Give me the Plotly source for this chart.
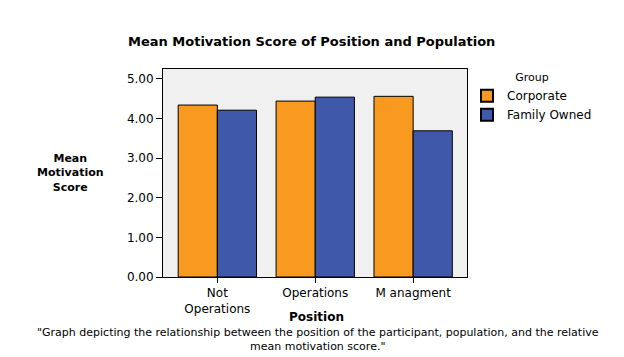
import plotly.graph_objects as go

positions = ["Not<br>Operations", "Operations", "M anagment"]
corporate = [4.34, 4.44, 4.56]
family_owned = [4.21, 4.54, 3.69]
y_ticks = [0, 1, 2, 3, 4, 5]
y_tick_labels = ["0.00", "1.00", "2.00", "3.00", "4.00", "5.00"]

font_family = "DejaVu Sans, Verdana, sans-serif"

# page body has an 8px margin, so lay out in figure coords = image coords - OFF
OFF = 8
W, H = 624, 357
# plot area in image pixels: x 163..467, y 69..277
L = 163 - OFF
T = 69 - OFF
R = W - (467 - OFF)
B = H - (277 - OFF)
plot_w = W - L - R
plot_h = H - T - B


def px(x):
    return (x - OFF - L) / plot_w


def py(y):
    return (H - B - (y - OFF)) / plot_h


fig = go.Figure()
fig.add_trace(go.Bar(x=positions, y=corporate, name="Corporate",
                     marker=dict(color="#F89A1F", line=dict(color="black", width=1))))
fig.add_trace(go.Bar(x=positions, y=family_owned, name="Family Owned",
                     marker=dict(color="#3F58A9", line=dict(color="black", width=1))))

fig.update_layout(
    width=W, height=H,
    margin=dict(l=L, r=R, t=T, b=B, autoexpand=False),
    paper_bgcolor="white", plot_bgcolor="#f0f0f0",
    barmode="group", bargap=0.2, bargroupgap=0,
    font=dict(family=font_family, size=12, color="black"),
    showlegend=True,
    legend=dict(title=dict(text="Group", side="top center", font=dict(size=11)),
                x=px(467), xanchor="left", y=py(67), yanchor="top",
                font=dict(size=12), bgcolor="rgba(0,0,0,0)",
                itemsizing="constant", tracegroupgap=0),
    xaxis=dict(range=[-0.555, 2.55], showline=True, linecolor="black", linewidth=1,
               mirror=True, ticks="outside", ticklen=5, tickcolor="black",
               automargin=False, tickfont=dict(size=12)),
    yaxis=dict(range=[0, 5.25], showline=True, linecolor="black", linewidth=1,
               mirror=True, ticks="outside", ticklen=6, tickcolor="black",
               tickvals=y_ticks, ticktext=y_tick_labels, showgrid=False,
               zeroline=False, automargin=False, tickfont=dict(size=12)),
    annotations=[
        dict(text="<b>Mean Motivation Score of Position and Population</b>",
             x=px(311), y=py(41), xref="paper", yref="paper", showarrow=False,
             xanchor="center", yanchor="middle", font=dict(size=13)),
        dict(text="<b>Mean<br>Motivation<br>Score</b>", x=px(70), y=py(173),
             xref="paper", yref="paper", showarrow=False, xanchor="center",
             yanchor="middle", font=dict(size=11)),
        dict(text="<b>Position</b>", x=px(316), y=py(317), xref="paper", yref="paper",
             xanchor="center", yanchor="middle", showarrow=False, font=dict(size=12)),
        dict(text="\"Graph depicting the relationship between the position of the participant, population, and the relative<br>mean motivation score.\"",
             x=px(318), y=py(339), xref="paper", yref="paper", showarrow=False,
             font=dict(size=11), xanchor="center", yanchor="middle"),
    ],
)

fig.write_html("out.html")
